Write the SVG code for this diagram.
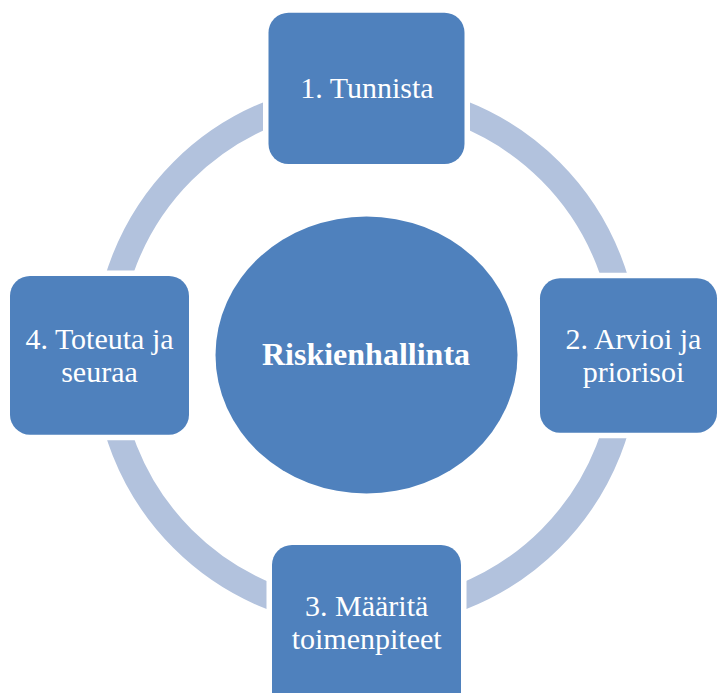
<svg xmlns="http://www.w3.org/2000/svg" width="718" height="693" viewBox="0 0 718 693">
<style>
.node{fill:#4f81bd;stroke:#ffffff;stroke-width:11;paint-order:stroke}
.lbl{font-family:"Liberation Serif",serif;font-size:30px;fill:#ffffff;text-anchor:middle}
.ctr{font-family:"Liberation Serif",serif;font-size:32px;font-weight:bold;fill:#ffffff;text-anchor:middle}
.ring{fill:none;stroke:#b2c2dd;stroke-width:26}
</style>
<rect width="718" height="693" fill="#ffffff"/>
<g id="connectors">
<circle class="ring" cx="366.5" cy="355" r="260"/>
</g>
<g id="center">
<ellipse cx="366.5" cy="355" rx="151" ry="138.5" fill="#4f81bd"/>
<text class="ctr" x="366" y="365">Riskienhallinta</text>
</g>
<g id="node1">
<rect class="node" x="268.5" y="12.7" width="196" height="151.3" rx="20"/>
<text class="lbl" x="367" y="98">1. Tunnista</text>
</g>
<g id="node2">
<rect class="node" x="540" y="278.3" width="177" height="154.4" rx="20"/>
<text class="lbl" x="633.5" y="348.5">2. Arvioi ja</text>
<text class="lbl" x="633.5" y="381.5">priorisoi</text>
</g>
<g id="node3">
<rect class="node" x="272" y="545" width="189" height="170" rx="20"/>
<text class="lbl" x="366.7" y="616">3. Määritä</text>
<text class="lbl" x="366.7" y="649">toimenpiteet</text>
</g>
<g id="node4">
<rect class="node" x="10" y="276" width="179" height="158.7" rx="20"/>
<text class="lbl" x="99.5" y="348.5">4. Toteuta ja</text>
<text class="lbl" x="99.5" y="381.5">seuraa</text>
</g>
</svg>
